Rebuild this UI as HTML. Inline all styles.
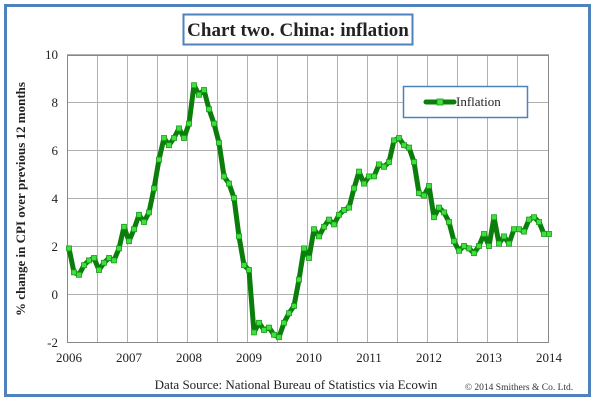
<!DOCTYPE html><html><head><style>body{margin:0;background:#fff}svg{display:block}</style></head><body>
<svg id="s" width="600" height="407" xmlns="http://www.w3.org/2000/svg" font-family="'Liberation Serif', serif">
<rect x="0" y="0" width="600" height="407" fill="#fff"/>
<rect x="5.5" y="5.5" width="584" height="390" fill="none" stroke="#4f81bd" stroke-width="3"/>
<rect x="183.5" y="14.5" width="229" height="30" fill="#fff" stroke="#4f81bd" stroke-width="2"/>
<text x="298" y="36" font-size="19" text-anchor="middle" fill="#222" font-family="'Liberation Serif', serif" font-weight="bold">Chart two. China: inflation</text>
<g id="grid" stroke="#b0b0b0" stroke-width="1"></g>
<rect x="67.5" y="55.5" width="481" height="287" fill="none" stroke="#888" stroke-width="1"/>
<g id="yl" font-size="13" fill="#222" text-anchor="end" font-family="'Liberation Serif', serif"></g>
<g id="xl" font-size="13" fill="#222" text-anchor="middle" font-family="'Liberation Serif', serif"></g>
<text transform="translate(25,199) rotate(-90)" font-size="13" text-anchor="middle" fill="#222" font-weight="bold" font-family="'Liberation Serif', serif">% change in CPI over previous 12 months</text>
<text x="296" y="389" font-size="13" text-anchor="middle" fill="#222" font-family="'Liberation Serif', serif">Data Source: National Bureau of Statistics via Ecowin</text>
<text x="519" y="390" font-size="9.5" text-anchor="middle" fill="#333" font-family="'Liberation Serif', serif">© 2014 Smithers &amp; Co. Ltd.</text>
<polyline id="ln" fill="none" stroke="#0a7d0a" stroke-width="5" stroke-linejoin="round"/>
<g id="mk" fill="#3ee03e" stroke="#1a9a1a" stroke-width="0.8"></g>
<rect x="403.5" y="86.5" width="124" height="31" fill="#fff" stroke="#4f81bd" stroke-width="1.5"/>
<line x1="426" y1="102" x2="454" y2="102" stroke="#0a7d0a" stroke-width="5" stroke-linecap="round"/>
<rect x="437" y="99" width="6" height="6" fill="#3ee03e" stroke="#1a9a1a" stroke-width="0.8"/>
<text x="456" y="106" font-size="13" fill="#222" font-family="'Liberation Serif', serif">Inflation</text>
</svg>
<script>
var ns="http://www.w3.org/2000/svg",X0=67,Y=function(v){return 294-24*v};
function el(t,a,p){var e=document.createElementNS(ns,t);for(var k in a)e.setAttribute(k,a[k]);if(p)document.getElementById(p).appendChild(e);return e}
for(var i=1;i<16;i++){var x=X0+i*30+0.5;el("line",{x1:x,y1:55,x2:x,y2:342},"grid")}
for(var v=-2;v<=10;v+=2){var y=Y(v)+0.5;el("line",{x1:67,y1:y,x2:549,y2:y},"grid");var t=el("text",{x:58,y:Y(v)+5},"yl");t.textContent=v}
for(var j=0;j<=8;j++){var t=el("text",{x:X0+j*60+2,y:362},"xl");t.textContent=2006+j}
var d=[1.9,0.9,0.8,1.2,1.4,1.5,1.0,1.3,1.5,1.4,1.9,2.8,2.2,2.7,3.3,3.0,3.4,4.4,5.6,6.5,6.2,6.5,6.9,6.5,7.1,8.7,8.3,8.5,7.7,7.1,6.3,4.9,4.6,4.0,2.4,1.2,1.0,-1.6,-1.2,-1.5,-1.4,-1.7,-1.8,-1.2,-0.8,-0.5,0.6,1.9,1.5,2.7,2.4,2.8,3.1,2.9,3.3,3.5,3.6,4.4,5.1,4.6,4.9,4.9,5.4,5.3,5.5,6.4,6.5,6.2,6.1,5.5,4.2,4.1,4.5,3.2,3.6,3.4,3.0,2.2,1.8,2.0,1.9,1.7,2.0,2.5,2.0,3.2,2.1,2.4,2.1,2.7,2.7,2.6,3.1,3.2,3.0,2.5,2.5];
var pts=[];for(var i=0;i<d.length;i++){var x=69+i*5,y=Y(d[i]);pts.push(x+","+y);el("rect",{x:x-2.5,y:y-2.5,width:5,height:5},"mk")}
document.getElementById("ln").setAttribute("points",pts.join(" "));
</script></body></html>
